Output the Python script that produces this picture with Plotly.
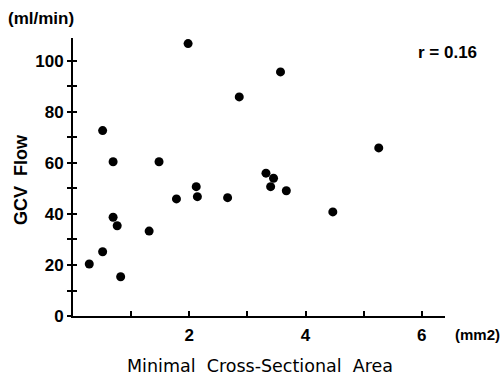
import plotly.graph_objects as go

area = [0.28, 0.51, 0.51, 0.69, 0.69, 0.76, 0.82, 1.31, 1.48, 1.78, 1.98,
        2.12, 2.14, 2.66, 2.86, 3.57, 3.32, 3.45, 3.40, 3.67, 4.47, 5.26]
flow = [20.4, 25.2, 72.7, 60.5, 38.7, 35.4, 15.4, 33.3, 60.5, 45.9, 106.8,
        50.7, 46.8, 46.4, 85.9, 95.7, 56.0, 54.0, 50.7, 49.1, 40.8, 65.9]

x_ticks = [2, 4, 6]
y_ticks = [0, 20, 40, 60, 80, 100]

font_b = "Liberation Sans"
W, H = 504, 380
ML, MR, MT, MB = 73, 59, 38, 64

fig = go.Figure()
fig.add_trace(go.Scatter(x=area, y=flow, mode="markers",
                         marker=dict(color="black", size=9, line=dict(width=0)),
                         showlegend=False, hoverinfo="skip"))

fig.update_layout(
    width=W, height=H,
    margin=dict(l=ML, r=MR, t=MT, b=MB),
    paper_bgcolor="white", plot_bgcolor="white",
    xaxis=dict(range=[0, 6.4], tickvals=x_ticks, ticktext=[str(v) for v in x_ticks],
               showgrid=False, zeroline=False, showline=True, linecolor="black",
               linewidth=2, ticks="inside", ticklen=5, tickwidth=1.5, tickcolor="black",
               minor=dict(dtick=1, tick0=0, ticks="inside", ticklen=5, tickwidth=1.5,
                          tickcolor="black", showgrid=False),
               tickfont=dict(family=font_b, size=17, color="black", weight="bold"),
               ticklabelstandoff=3),
    yaxis=dict(range=[0, 109], tickvals=y_ticks, ticktext=[str(v) for v in y_ticks],
               showgrid=False, zeroline=False, showline=True, linecolor="black",
               linewidth=2, ticks="outside", ticklen=4, tickwidth=1.5, tickcolor="black",
               minor=dict(dtick=10, tick0=0, ticks="outside", ticklen=4, tickwidth=1.5,
                          tickcolor="black", showgrid=False),
               tickfont=dict(family=font_b, size=17, color="black", weight="bold")),
    yaxis2=dict(range=[0, 109], overlaying="y", matches="y", tickvals=y_ticks,
                showticklabels=False, showgrid=False, zeroline=False, showline=False,
                ticks="inside", ticklen=4, tickwidth=1.5, tickcolor="black",
                minor=dict(dtick=10, tick0=0, ticks="inside", ticklen=4, tickwidth=1.5,
                           tickcolor="black", showgrid=False)),
)

fig.add_trace(go.Scatter(x=[None], y=[None], yaxis="y2", showlegend=False, hoverinfo="skip"))

pw, ph = W - ML - MR, H - MT - MB


def add_text(text, px, py, xanchor, font, angle=0):
    fig.add_annotation(xref="paper", yref="paper",
                       x=(px - ML) / pw, y=1 - (py - MT) / ph,
                       showarrow=False, text=text, xanchor=xanchor, yanchor="middle",
                       font=font, textangle=angle)


add_text("(ml/min)", 6, 18, "left", dict(family=font_b, size=17, color="black", weight="bold"))
add_text("r = 0.16", 479, 52, "right", dict(family=font_b, size=17, color="black", weight="bold"))
add_text("GCV  Flow", 21, 180, "center", dict(family=font_b, size=18, color="black", weight="bold"), -90)
add_text("Minimal  Cross-Sectional  Area", 260, 366, "center",
         dict(family="DejaVu Sans", size=17.5, color="black"))
add_text("(mm2)", 502, 334, "right", dict(family=font_b, size=15, color="black", weight="bold"))

fig.write_html("out.html", config={"displayModeBar": False},
               post_script="document.body.style.margin='0';document.body.style.padding='0';")
